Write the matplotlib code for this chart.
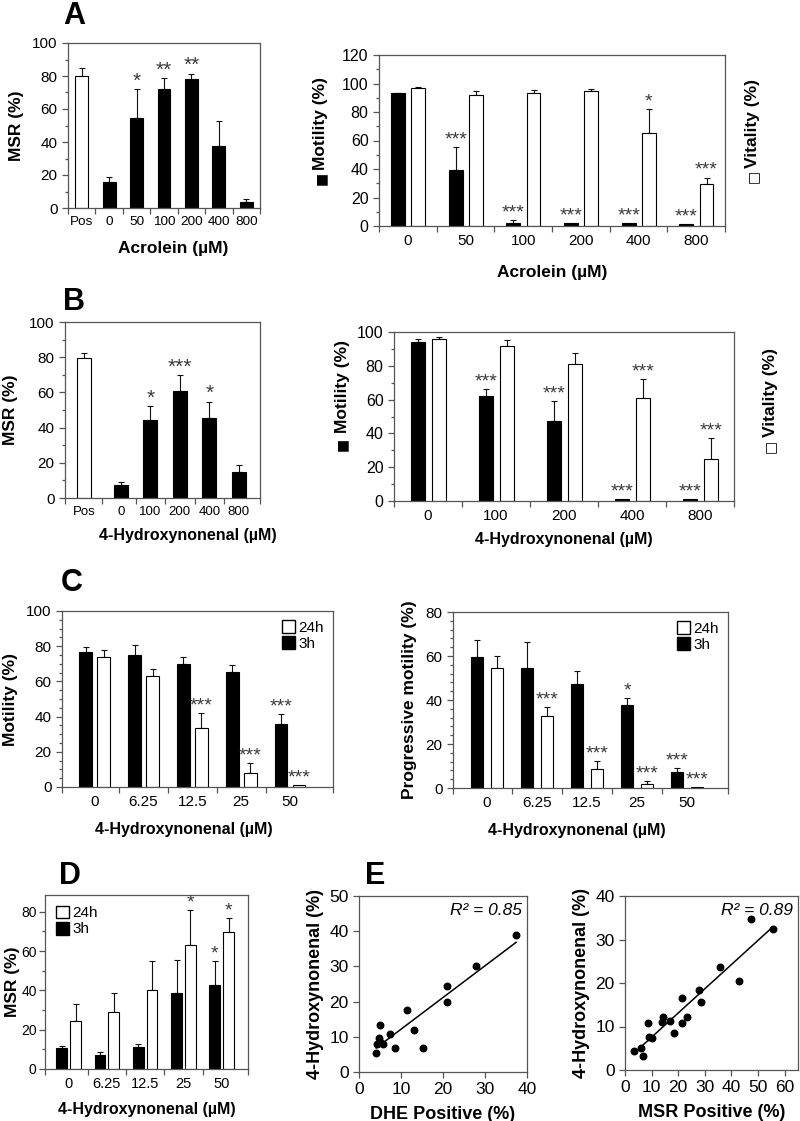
import numpy as np
import matplotlib
matplotlib.use('Agg')
import matplotlib.pyplot as plt
from matplotlib.ticker import MultipleLocator
from matplotlib.patches import Patch

plt.rcParams['font.family'] = ['Liberation Sans', 'DejaVu Sans']
plt.rcParams['font.size'] = 11

# ---- data ----
# A left: MSR vs acrolein
a_cats = ['Pos', '0', '50', '100', '200', '400', '800']
a_msr = [80, 16, 54.5, 72, 78, 37.8, 3.8]
a_msr_err = [4.8, 3, 17.6, 6.6, 3.3, 15, 1.8]
a_msr_sig = ['', '', '*', '**', '**', '', '']

# A right: motility / vitality vs acrolein
a2_cats = ['0', '50', '100', '200', '400', '800']
a2_mot = [93, 39.6, 2.3, 1.9, 1.9, 1.6]
a2_mot_err = [0.6, 16, 2.2, 0, 0, 0]
a2_mot_sig = ['', '***', '***', '***', '***', '***']
a2_vit = [96.5, 92, 93, 94.4, 65.4, 29.5]
a2_vit_err = [1, 3, 2.1, 1.9, 17, 4.5]
a2_vit_sig = ['', '', '', '', '*', '***']

# B left: MSR vs 4-HNE
b_cats = ['Pos', '0', '100', '200', '400', '800']
b_msr = [79.6, 7.4, 44.6, 60.9, 45.6, 14.8]
b_msr_err = [3, 1.7, 7.4, 9, 9, 4.1]
b_msr_sig = ['', '', '*', '***', '*', '']

# B right: motility / vitality vs 4-HNE
b2_cats = ['0', '100', '200', '400', '800']
b2_mot = [94.1, 62, 47.6, 1.2, 1.2]
b2_mot_err = [1.9, 4, 11.5, 0, 0]
b2_mot_sig = ['', '***', '***', '***', '***']
b2_vit = [95.7, 91.5, 80.8, 61, 24.9]
b2_vit_err = [1.5, 3.5, 6.6, 10.9, 12.1]
b2_vit_sig = ['', '', '', '***', '***']

# C: motility & progressive motility, 3h vs 24h
c_cats = ['0', '6.25', '12.5', '25', '50']
c_mot_3h = [76.7, 74.8, 70.1, 65.3, 35.6]
c_mot_3h_err = [2.8, 5.7, 3.8, 3.8, 6.1]
c_mot_3h_sig = ['', '', '', '', '***']
c_mot_24h = [73.9, 62.9, 33.7, 8.1, 0.9]
c_mot_24h_err = [3.8, 4.3, 8.3, 5.5, 0]
c_mot_24h_sig = ['', '', '***', '***', '***']
c_prog_3h = [59.4, 54.4, 47.4, 37.8, 7.4]
c_prog_3h_err = [8, 11.8, 5.9, 2.9, 1.8]
c_prog_3h_sig = ['', '', '', '*', '***']
c_prog_24h = [54.7, 32.6, 8.7, 1.8, 0.5]
c_prog_24h_err = [5.3, 4.4, 3.6, 1.2, 0]
c_prog_24h_sig = ['', '***', '***', '***', '***']

# D: MSR 3h vs 24h
d_msr_3h = [10.7, 7.3, 11, 38.6, 42.8]
d_msr_3h_err = [1.1, 1.3, 1.7, 16.9, 12.2]
d_msr_3h_sig = ['', '', '', '', '*']
d_msr_24h = [24.2, 29.1, 40.3, 63.1, 69.5]
d_msr_24h_err = [8.8, 9.8, 14.4, 17.8, 7.1]
d_msr_24h_sig = ['', '', '', '*', '*']

# E: correlations
e_dhe = [4.1, 4.2, 4.8, 5.1, 5.0, 5.8, 7.4, 8.5, 11.4, 13.0, 15.2, 20.9, 20.9, 27.9, 37.4]
e_hne1 = [5.4, 8.0, 9.6, 13.4, 8.4, 8.0, 10.7, 6.9, 17.7, 11.8, 6.7, 24.3, 19.9, 30.2, 38.8]
e_msr = [3.5, 5.9, 6.9, 8.5, 9.0, 10.3, 13.75, 14.1, 16.9, 18.5, 21.4, 21.5, 23.4,
         27.75, 28.5, 35.6, 42.75, 47.4, 55.6]
e_hne2 = [4.4, 5.1, 3.3, 10.9, 7.65, 7.4, 11.1, 12.1, 11.2, 8.4, 16.6, 10.9, 12.1,
          18.4, 15.6, 23.7, 20.5, 34.7, 32.4]

W, H = 800, 1121
fig = plt.figure(figsize=(W / 100, H / 100), dpi=100)
SP = '#555555'


def box(x0, y0, x1, y1):
    return fig.add_axes([x0 / W, 1 - y1 / H, (x1 - x0) / W, (y1 - y0) / H])


def frame(ax):
    for s in ax.spines.values():
        s.set_color(SP)
        s.set_linewidth(0.9)
    ax.tick_params(which='both', direction='out', color=SP, width=0.9)
    ax.tick_params(which='major', length=4)
    ax.tick_params(which='minor', length=2.5)


def cat_axis(ax, centers, labels, xlim, size=11):
    centers = np.asarray(centers, float)
    seps = np.r_[xlim[0], (centers[:-1] + centers[1:]) / 2, xlim[1]]
    ax.set_xlim(*xlim)
    ax.set_xticks(centers)
    ax.set_xticklabels(labels)
    ax.set_xticks(seps, minor=True)
    ax.tick_params(axis='x', which='major', length=0, pad=6, labelsize=size)
    ax.tick_params(axis='x', which='minor', length=4)


def bars(ax, x, vals, errs, color, width):
    x = np.asarray(x, float)
    vals = np.asarray(vals, float)
    e = np.asarray(errs, float)
    ax.bar(x, vals, width, color=color, edgecolor='k', linewidth=0.8, zorder=2)
    m = e > 0
    ax.errorbar(x[m], vals[m], yerr=[np.zeros(m.sum()), e[m]], fmt='none',
                ecolor='#111111', elinewidth=0.8, capsize=2.5, capthick=0.8, zorder=1)


def stars(ax, x, vals, errs, marks, size=14):
    for xi, v, e, s in zip(x, vals, errs, marks):
        if s:
            ax.annotate(s, (xi, v + e), xytext=(0, -1), textcoords='offset points',
                        ha='center', va='bottom', fontsize=size, color='#3a3a3a')


def ylab(ax, text, pad=4, size=12.5):
    ax.set_ylabel(text, fontsize=size, fontweight='bold', labelpad=pad)


def xlab(ax, text, pad=6, size=12.5):
    ax.set_xlabel(text, fontsize=size, fontweight='bold', labelpad=pad)


def letter(x, y, s):
    fig.text(x / W, 1 - y / H, s, fontsize=22, fontweight='bold', ha='center', va='center')


def side_label(x, y_text, y_sq, text, square):
    fig.text(x / W, 1 - y_text / H, text, rotation=90, ha='center', va='center',
             fontsize=12.5, fontweight='bold')
    fig.text(x / W, 1 - y_sq / H, square, rotation=90, ha='center', va='center',
             fontsize=10, family='DejaVu Sans')


# ---- A left ----
ax = box(68, 43, 260, 208)
frame(ax)
xa = np.arange(len(a_cats))
bars(ax, xa[:1], a_msr[:1], a_msr_err[:1], 'white', 0.47)
bars(ax, xa[1:], a_msr[1:], a_msr_err[1:], 'black', 0.47)
stars(ax, xa, a_msr, a_msr_err, a_msr_sig, 15)
ax.set_ylim(0, 100)
ax.yaxis.set_major_locator(MultipleLocator(20))
ax.yaxis.set_minor_locator(MultipleLocator(10))
cat_axis(ax, xa, a_cats, (-0.5, 6.5), size=9.7)
ax.tick_params(axis='y', labelsize=11)
ylab(ax, 'MSR (%)', pad=6)
xlab(ax, 'Acrolein (µM)', pad=10)
ax.xaxis.set_label_coords(0.55, -0.2)
letter(74, 16, 'A')

# ---- A right ----
ax = box(379, 55, 725, 226)
frame(ax)
xg = np.arange(len(a2_cats))
bars(ax, xg - 0.17, a2_mot, a2_mot_err, 'black', 0.24)
bars(ax, xg + 0.18, a2_vit, a2_vit_err, 'white', 0.24)
stars(ax, xg - 0.17, a2_mot, a2_mot_err, a2_mot_sig)
stars(ax, xg + 0.18, a2_vit, a2_vit_err, a2_vit_sig)
ax.set_ylim(0, 120)
ax.yaxis.set_major_locator(MultipleLocator(20))
ax.yaxis.set_minor_locator(MultipleLocator(10))
cat_axis(ax, xg, a2_cats, (-0.5, 5.5))
ax.tick_params(axis='y', labelsize=11.5)
xlab(ax, 'Acrolein (µM)', pad=12)
side_label(321, 124, 178, 'Motility (%)', '■')
side_label(753, 123, 176, 'Vitality (%)', '□')

# ---- B left ----
ax = box(65, 322, 260, 498)
frame(ax)
xb = np.arange(len(b_cats)) + np.r_[0, np.full(len(b_cats) - 1, 0.25)]
bars(ax, xb[:1], b_msr[:1], b_msr_err[:1], 'white', 0.47)
bars(ax, xb[1:], b_msr[1:], b_msr_err[1:], 'black', 0.47)
stars(ax, xb, b_msr, b_msr_err, b_msr_sig, 15)
ax.set_ylim(0, 100)
ax.yaxis.set_major_locator(MultipleLocator(20))
ax.yaxis.set_minor_locator(MultipleLocator(10))
cat_axis(ax, xb, b_cats, (-0.64, 5.97), size=9.5)
ax.tick_params(axis='y', labelsize=11)
ylab(ax, 'MSR (%)', pad=8)
xlab(ax, '4-Hydroxynonenal (µM)', pad=8, size=11.5)
ax.xaxis.set_label_coords(0.63, -0.17)
letter(74, 302, 'B')

# ---- B right ----
ax = box(394, 332, 734, 501)
frame(ax)
xg = np.arange(len(b2_cats))
bars(ax, xg - 0.15, b2_mot, b2_mot_err, 'black', 0.2)
bars(ax, xg + 0.16, b2_vit, b2_vit_err, 'white', 0.2)
stars(ax, xg - 0.15, b2_mot, b2_mot_err, b2_mot_sig)
stars(ax, xg + 0.16, b2_vit, b2_vit_err, b2_vit_sig)
ax.set_ylim(0, 100)
ax.yaxis.set_major_locator(MultipleLocator(20))
ax.yaxis.set_minor_locator(MultipleLocator(10))
cat_axis(ax, xg, b2_cats, (-0.5, 4.5))
ax.tick_params(axis='y', labelsize=11.5)
xlab(ax, '4-Hydroxynonenal (µM)', pad=6, size=11.5)
side_label(342, 387, 444, 'Motility (%)', '■')
side_label(770, 393, 446, 'Vitality (%)', '□')

# ---- C left ----
ax = box(62, 611, 333, 787)
frame(ax)
xg = np.arange(len(c_cats))
bars(ax, xg - 0.185, c_mot_3h, c_mot_3h_err, 'black', 0.26)
bars(ax, xg + 0.185, c_mot_24h, c_mot_24h_err, 'white', 0.26)
stars(ax, xg - 0.185, c_mot_3h, c_mot_3h_err, c_mot_3h_sig)
stars(ax, xg + 0.185, c_mot_24h, c_mot_24h_err, c_mot_24h_sig)
ax.set_ylim(0, 100)
ax.yaxis.set_major_locator(MultipleLocator(20))
ax.yaxis.set_minor_locator(MultipleLocator(5))
cat_axis(ax, xg, c_cats, (-0.67, 4.88))
ax.tick_params(axis='y', labelsize=11)
ylab(ax, 'Motility (%)', pad=6)
xlab(ax, '4-Hydroxynonenal (µM)', pad=6, size=11.5)
ax.xaxis.set_label_coords(0.45, -0.2)
leg_h = [Patch(facecolor='white', edgecolor='k', label='24h'),
         Patch(facecolor='black', edgecolor='k', label='3h')]
ax.legend(handles=leg_h, loc='upper right', frameon=False, fontsize=11,
          handlelength=0.9, handleheight=0.9, handletextpad=0.2, labelspacing=0.1,
          borderaxespad=0.2)
letter(72, 583, 'C')

# ---- C right ----
ax = box(453, 612, 728, 788)
frame(ax)
bars(ax, xg - 0.2, c_prog_3h, c_prog_3h_err, 'black', 0.25)
bars(ax, xg + 0.2, c_prog_24h, c_prog_24h_err, 'white', 0.25)
stars(ax, xg - 0.2, c_prog_3h, c_prog_3h_err, c_prog_3h_sig)
stars(ax, xg + 0.2, c_prog_24h, c_prog_24h_err, c_prog_24h_sig)
ax.set_ylim(0, 80)
ax.yaxis.set_major_locator(MultipleLocator(20))
ax.yaxis.set_minor_locator(MultipleLocator(4))
cat_axis(ax, xg, c_cats, (-0.68, 4.82))
ax.tick_params(axis='y', labelsize=11)
ylab(ax, 'Progressive motility (%)', pad=6)
xlab(ax, '4-Hydroxynonenal (µM)', pad=6, size=11.5)
ax.xaxis.set_label_coords(0.45, -0.2)
ax.legend(handles=leg_h, loc='upper right', frameon=False, fontsize=11,
          handlelength=0.9, handleheight=0.9, handletextpad=0.2, labelspacing=0.1,
          borderaxespad=0.2)

# ---- D ----
ax = box(45, 895, 248, 1069)
frame(ax)
bars(ax, xg - 0.18, d_msr_3h, d_msr_3h_err, 'black', 0.28)
bars(ax, xg + 0.18, d_msr_24h, d_msr_24h_err, 'white', 0.28)
stars(ax, xg - 0.18, d_msr_3h, d_msr_3h_err, d_msr_3h_sig)
stars(ax, xg + 0.18, d_msr_24h, d_msr_24h_err, d_msr_24h_sig)
ax.set_ylim(0, 88.5)
ax.set_yticks([0, 20, 40, 60, 80])
ax.yaxis.set_minor_locator(MultipleLocator(10))
cat_axis(ax, xg, c_cats, (-0.62, 4.69), size=10.5)
ax.tick_params(axis='y', labelsize=10, pad=2)
ylab(ax, 'MSR (%)', pad=1)
xlab(ax, '4-Hydroxynonenal (µM)', pad=8, size=11.5)
ax.legend(handles=leg_h, loc='upper left', frameon=False, fontsize=11,
          handlelength=0.9, handleheight=0.9, handletextpad=0.2, labelspacing=0.1,
          borderaxespad=0.3)
letter(70, 876, 'D')


# ---- E ----
def scatter_panel(ax, x, y, xlim, ylim, xstep, ystep, r2, xl):
    frame(ax)
    ax.scatter(x, y, s=22, color='black', zorder=3)
    k, b = np.polyfit(x, y, 1)
    xx = np.array([min(x), max(x)])
    ax.plot(xx, k * xx + b, color='black', lw=1.1)
    ax.set_xlim(*xlim)
    ax.set_ylim(*ylim)
    ax.xaxis.set_major_locator(MultipleLocator(xstep))
    ax.yaxis.set_major_locator(MultipleLocator(ystep))
    ax.tick_params(labelsize=12.5)
    ax.text(0.97, 0.96, r2, transform=ax.transAxes, ha='right', va='top',
            fontsize=12.5, style='italic')
    ylab(ax, '4-Hydroxynonenal (%)', pad=4, size=13)
    xlab(ax, xl, pad=6, size=13)


ax = box(359, 896, 527, 1072)
scatter_panel(ax, e_dhe, e_hne1, (0, 40), (0, 50), 10, 10, 'R² = 0.85', 'DHE Positive (%)')
letter(375, 876, 'E')

ax = box(625, 896, 798, 1070)
scatter_panel(ax, e_msr, e_hne2, (0, 65), (0, 40), 10, 10, 'R² = 0.89', 'MSR Positive (%)')

fig.savefig('out.png', dpi=100)
